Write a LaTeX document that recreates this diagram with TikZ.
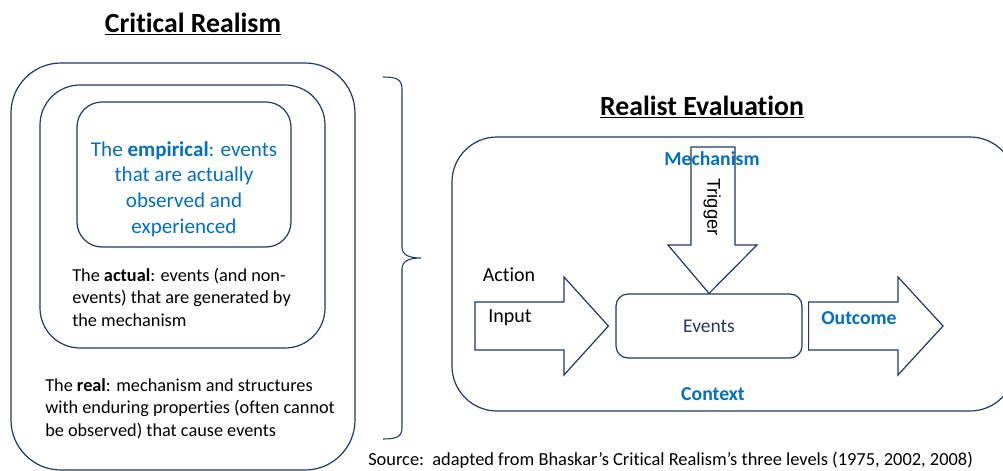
\documentclass[tikz,border=0pt]{standalone}
\usepackage{fontspec}
\setmainfont{Carlito}[Ligatures=NoCommon]
\newfontfamily\arialfont{Liberation Sans}
\definecolor{navy}{HTML}{203864}
\definecolor{textblue}{HTML}{0070C0}
\tikzset{
  box/.style={draw=navy, line width=0.9pt},
  bigarrow/.style={draw=navy, line width=0.9pt, line join=miter},
  title/.style={font=\fontsize{20.8}{24}\selectfont\bfseries, inner sep=0pt},
  para/.style={font=\fontsize{13.7}{16.8}\selectfont, align=left, inner sep=0pt, anchor=west},
  keyword/.style={font=\fontsize{14.8}{17}\selectfont\bfseries, text=textblue, inner sep=0pt},
  plain/.style={font=\fontsize{15}{17}\selectfont, inner sep=0pt},
}
\begin{document}
\begin{tikzpicture}[x=0.75pt, y=-0.75pt]
\useasboundingbox (0,0) rectangle (1003,471);

% ---------- Critical Realism: three nested levels ----------
\node[title] (crtitle) at (193,24) {\underline{Critical Realism}};

\node[box, rounded corners=37.5pt, minimum width=258pt, minimum height=305.25pt] (real) at (183,266.5) {};
\node[box, rounded corners=30pt, minimum width=213.75pt, minimum height=197.25pt] (actual) at (182.5,216.5) {};
\node[box, rounded corners=18.75pt, minimum width=160.5pt, minimum height=108.75pt] (empirical) at (184,174.5) {};

\node[font=\fontsize{15.8}{19.3}\selectfont, text=textblue, align=center, inner sep=0pt] (emptext) at (184,189)
  {The \textbf{empirical}: events\\that are actually\\observed and\\experienced};

\node[para] (acttext) at (72,297)
  {The \textbf{actual}: events (and non-\\events) that are generated by\\the mechanism};

\node[para] (realtext) at (45,408.5)
  {The \textbf{real}: mechanism and structures\\with enduring properties (often cannot\\be observed) that cause events};

% right-hand brace gathering the three levels
\draw[draw=navy, line width=0.8pt]
  (383,77) .. controls (396,77) and (402,79) .. (402,89) -- (402,247)
  .. controls (402,255) and (409,258) .. (421,258)
  .. controls (409,258) and (402,261) .. (402,269) -- (402,428)
  .. controls (402,437) and (396,439) .. (383,439);

\node[font=\fontsize{13.8}{16}\selectfont, inner sep=0pt, anchor=west] (source) at (368,460)
  {Source:\ \ adapted from Bhaskar’s Critical Realism’s three levels (1975, 2002, 2008)};

% ---------- Realist Evaluation ----------
\node[title] (retitle) at (702,107) {\underline{Realist Evaluation}};

\node[box, rounded corners=33.75pt, minimum width=422.25pt, minimum height=205.5pt] (context) at (733.5,274) {};

\node[keyword] (mechanism) at (712,159) {Mechanism};
\node[keyword] (contextlabel) at (713,394) {Context};

\node[box, rounded corners=9pt, minimum width=139.5pt, minimum height=48pt,
      font=\fontsize{14.6}{17}\selectfont, text=navy] (events) at (709,326) {Events};

% trigger arrow coming down from the mechanism
\draw[bigarrow] (691,147) -- (735,147) -- (735,245) -- (757,245)
  -- (events.north) -- (668,245) -- (691,245) -- cycle;
\node[font=\arialfont\fontsize{13.8}{16}\selectfont, rotate=-90, inner sep=0pt] (trigger) at (712,207) {Trigger};

% input arrow into the events
\coordinate (inputtip) at ([xshift=-5.25pt]events.west);
\draw[bigarrow] (475,302) -- (564,302) -- (564,277) -- (inputtip)
  -- (564,375) -- (564,350) -- (475,350) -- cycle;
\node[plain] (action) at (509,275) {Action};
\node[plain] (input) at (510,318) {Input};

% outcome arrow out of the events
\coordinate (outbase) at ([xshift=4.5pt]events.east);
\draw[bigarrow] (outbase |- 0,302) -- (898,302) -- (898,277) -- (943,326)
  -- (898,375) -- (898,350) -- (outbase |- 0,350) -- cycle;
\node[keyword] (outcome) at (859,318) {Outcome};
\end{tikzpicture}
\end{document}
